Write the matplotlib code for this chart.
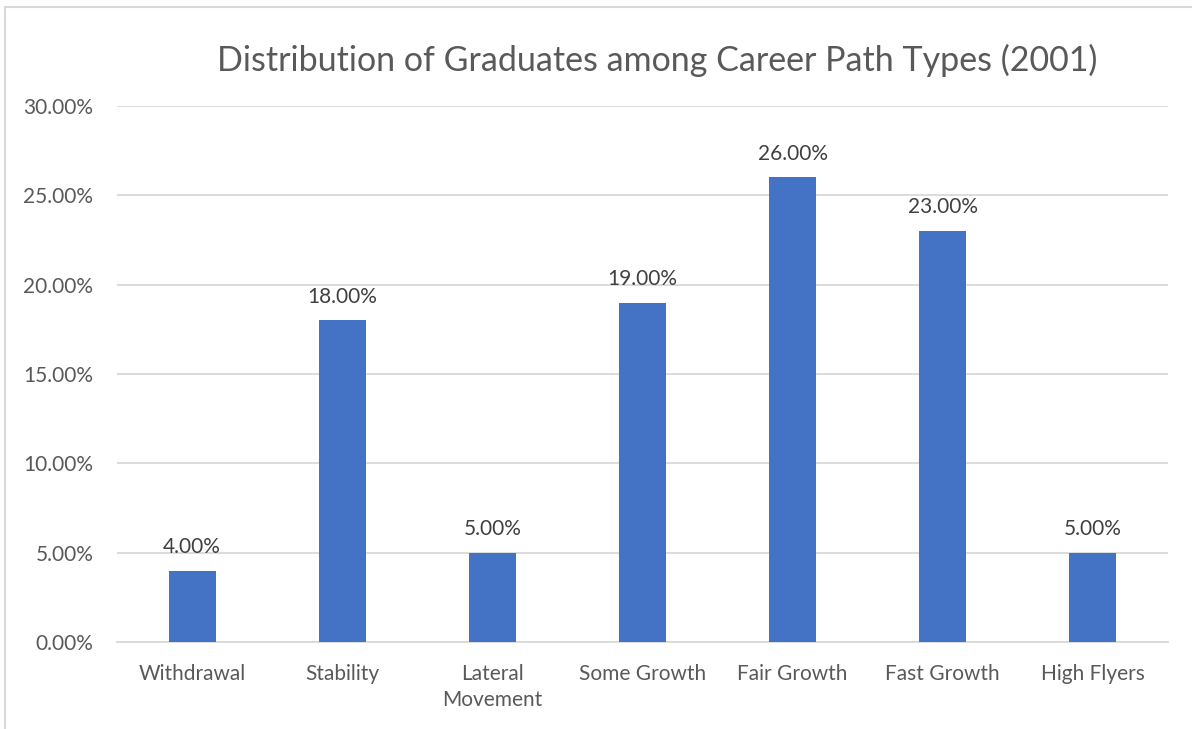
import matplotlib
matplotlib.use("Agg")
import matplotlib.pyplot as plt
from matplotlib.patches import Rectangle
from matplotlib.ticker import FuncFormatter

categories = ["Withdrawal", "Stability", "Lateral\nMovement", "Some Growth",
              "Fair Growth", "Fast Growth", "High Flyers"]
shares = [4.0, 18.0, 5.0, 19.0, 26.0, 23.0, 5.0]
y_ticks = [0, 5, 10, 15, 20, 25, 30]
title = "Distribution of Graduates among Career Path Types (2001)"

plt.rcParams["font.family"] = ["Lato", "DejaVu Sans"]

W, H = 1192, 729
fig = plt.figure(figsize=(W / 100, H / 100), dpi=100)
fig.patch.set_facecolor("white")

# chart-area frame (left and top edges visible)
fig.patches.append(Rectangle((5 / W, -0.1), 1.2, (H - 7) / H + 0.1,
                             transform=fig.transFigure, fill=False,
                             edgecolor="#d9d9d9", linewidth=1.5))

ax = fig.add_axes([117 / W, 87 / H, (1168 - 117) / W, (642 - 106) / H])
x = range(len(categories))
bars = ax.bar(x, shares, width=0.313, color="#4472c4", zorder=3)

ax.set_ylim(0, 30)
ax.set_xlim(-0.5, len(categories) - 0.5)
ax.set_yticks(y_ticks)
ax.yaxis.set_major_formatter(FuncFormatter(lambda v, p: f"{v:.2f}%"))
ax.set_xticks(list(x))
ax.set_xticklabels(categories, linespacing=1.35)
ax.grid(axis="y", color="#d9d9d9", linewidth=1.3, zorder=0)
for s in ["top", "right", "left"]:
    ax.spines[s].set_visible(False)
ax.spines["bottom"].set_color("#d9d9d9")
ax.spines["bottom"].set_linewidth(1.3)
ax.tick_params(axis="both", length=0, labelsize=15, colors="#595959")
ax.tick_params(axis="y", pad=17)
ax.tick_params(axis="x", pad=16)

for b, v in zip(bars, shares):
    ax.annotate(f"{v:.2f}%", (b.get_x() + b.get_width() / 2, v),
                xytext=(0, 10), textcoords="offset points",
                ha="center", va="bottom", fontsize=15, color="#404040")

fig.text(657 / W, 1 - 60 / H, title, ha="center", va="center",
         fontsize=24.5, color="#595959")

fig.savefig("out.png", dpi=100)
